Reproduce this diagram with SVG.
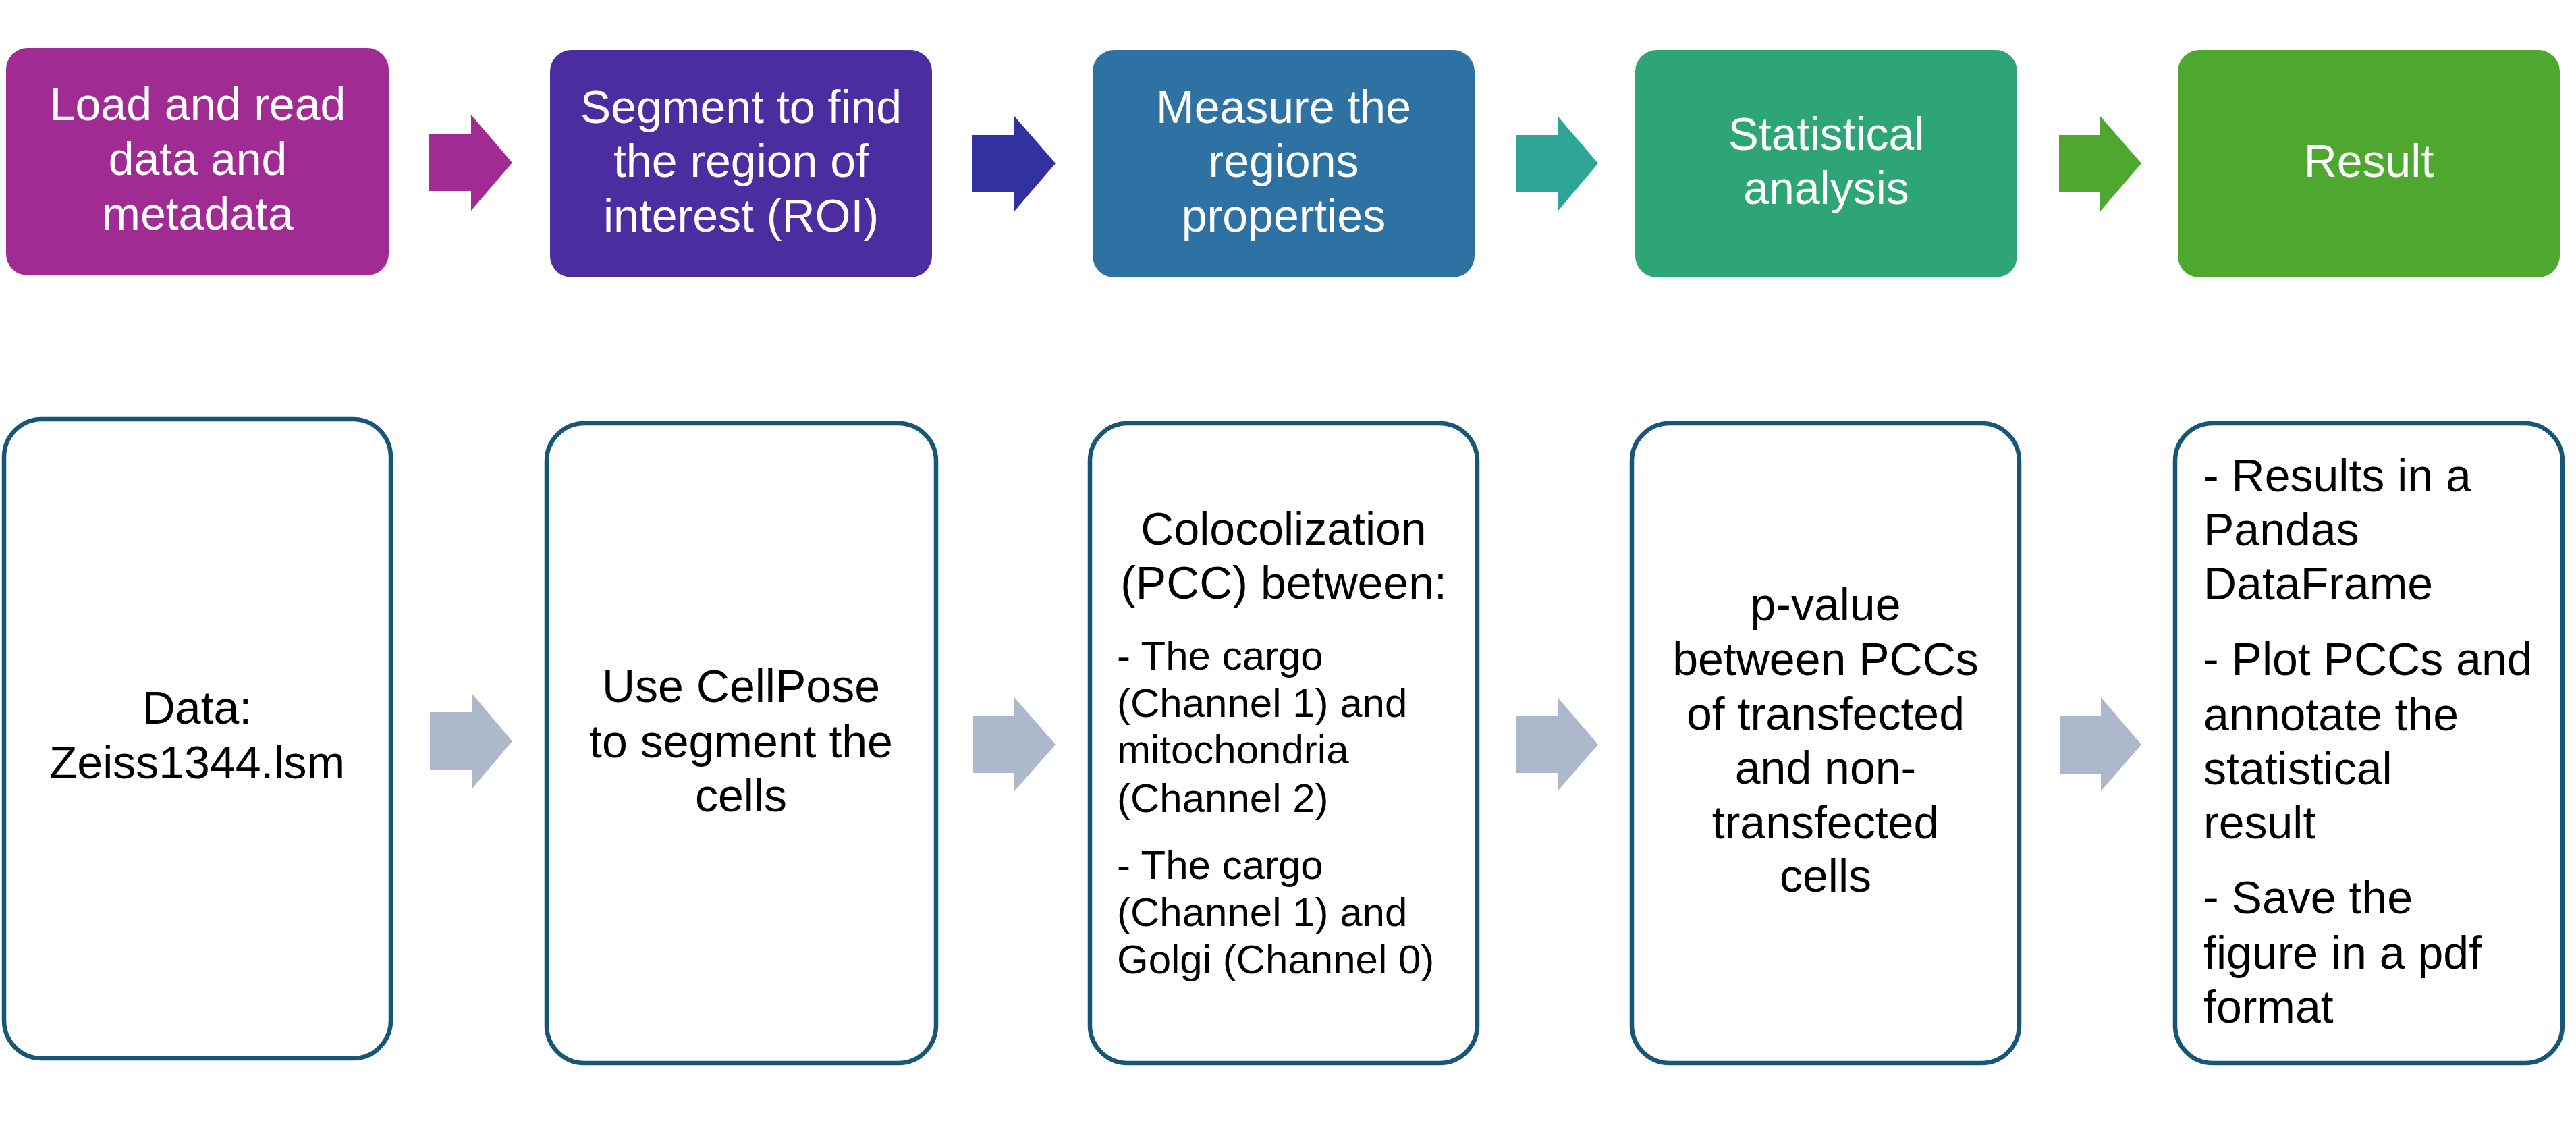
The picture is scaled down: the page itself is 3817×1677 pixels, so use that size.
<svg xmlns="http://www.w3.org/2000/svg" width="3817" height="1677" viewBox="0 0 3817 1677">
<style>
.t{font-family:"Liberation Sans",Arial,sans-serif;font-size:68px;fill:#ffffff;text-anchor:middle}
.b{font-family:"Liberation Sans",Arial,sans-serif;font-size:68px;fill:#000000}
.c{text-anchor:middle}
.s{font-size:60px}
.box{fill:#ffffff;stroke:#175676;stroke-width:6.5}
.ga{fill:#ADB9CA}
</style>
<rect width="3817" height="1677" fill="#ffffff"/>
<g id="step1">
<rect x="9" y="71" width="567" height="337" rx="32" fill="#A02B93"/>
<text class="t"><tspan x="293" y="178">Load and read</tspan><tspan x="293" y="259">data and</tspan><tspan x="293" y="340">metadata</tspan></text>
</g>
<g id="step2">
<rect x="815" y="74" width="566" height="337" rx="32" fill="#4B2D9F"/>
<text class="t"><tspan x="1098" y="182">Segment to find</tspan><tspan x="1098" y="262">the region of</tspan><tspan x="1098" y="343">interest (ROI)</tspan></text>
</g>
<g id="step3">
<rect x="1619" y="74" width="566" height="337" rx="32" fill="#2E72A3"/>
<text class="t"><tspan x="1902" y="182">Measure the</tspan><tspan x="1902" y="262">regions</tspan><tspan x="1902" y="343">properties</tspan></text>
</g>
<g id="step4">
<rect x="2423" y="74" width="566" height="337" rx="32" fill="#2DA577"/>
<text class="t"><tspan x="2706" y="222">Statistical</tspan><tspan x="2706" y="302">analysis</tspan></text>
</g>
<g id="step5">
<rect x="3227" y="74" width="566" height="337" rx="32" fill="#4EA72E"/>
<text class="t" x="3510" y="262">Result</text>
</g>
<g id="detail1">
<rect class="box" x="6" y="621" width="573" height="947" rx="56"/>
<text class="b c"><tspan x="292" y="1072">Data:</tspan><tspan x="292" y="1153">Zeiss1344.lsm</tspan></text>
</g>
<g id="detail2">
<rect class="box" x="810" y="627" width="577" height="948" rx="56"/>
<text class="b c"><tspan x="1098" y="1040">Use CellPose</tspan><tspan x="1098" y="1122">to segment the</tspan><tspan x="1098" y="1202">cells</tspan></text>
</g>
<g id="detail3">
<rect class="box" x="1615" y="627" width="574" height="948" rx="56"/>
<text class="b c"><tspan x="1902" y="807">Colocolization</tspan><tspan x="1902" y="887">(PCC) between:</tspan></text>
<text class="b s"><tspan x="1655" y="992">- The cargo</tspan><tspan x="1655" y="1062">(Channel 1) and</tspan><tspan x="1655" y="1131">mitochondria</tspan><tspan x="1655" y="1203">(Channel 2)</tspan><tspan x="1655" y="1302">- The cargo</tspan><tspan x="1655" y="1372">(Channel 1) and</tspan><tspan x="1655" y="1442">Golgi (Channel 0)</tspan></text>
</g>
<g id="detail4">
<rect class="box" x="2418" y="627" width="574" height="948" rx="56"/>
<text class="b c"><tspan x="2705" y="919">p-value</tspan><tspan x="2705" y="1000">between PCCs</tspan><tspan x="2705" y="1081">of transfected</tspan><tspan x="2705" y="1161">and non-</tspan><tspan x="2705" y="1242">transfected</tspan><tspan x="2705" y="1321">cells</tspan></text>
</g>
<g id="detail5">
<rect class="box" x="3223" y="627" width="574" height="948" rx="56"/>
<text class="b"><tspan x="3265" y="728">- Results in a</tspan><tspan x="3265" y="808">Pandas</tspan><tspan x="3265" y="888">DataFrame</tspan><tspan x="3265" y="1000">- Plot PCCs and</tspan><tspan x="3265" y="1082">annotate the</tspan><tspan x="3265" y="1162">statistical</tspan><tspan x="3265" y="1242">result</tspan><tspan x="3265" y="1353">- Save the</tspan><tspan x="3265" y="1435">figure in a pdf</tspan><tspan x="3265" y="1515">format</tspan></text>
</g>
<g id="connectors">
<polygon points="636,198 698,198 698,170 759,241 698,312 698,283 636,283" fill="#A02B93"/>
<polygon points="1441,200 1503,200 1503,172 1564,242 1503,313 1503,285 1441,285" fill="#3131A0"/>
<polygon points="2246,200 2308,200 2308,172 2368,242 2308,313 2308,285 2246,285" fill="#2EA597"/>
<polygon points="3051,200 3112,200 3112,172 3173,242 3112,313 3112,285 3051,285" fill="#4EA72E"/>
<polygon class="ga" points="637,1055 699,1055 699,1027 759,1098 699,1169 699,1140 637,1140"/>
<polygon class="ga" points="1442,1060 1503,1060 1503,1033 1564,1103 1503,1172 1503,1145 1442,1145"/>
<polygon class="ga" points="2247,1060 2308,1060 2308,1033 2368,1103 2308,1172 2308,1145 2247,1145"/>
<polygon class="ga" points="3052,1060 3113,1060 3113,1033 3173,1103 3113,1172 3113,1146 3052,1146"/>
</g>
</svg>
